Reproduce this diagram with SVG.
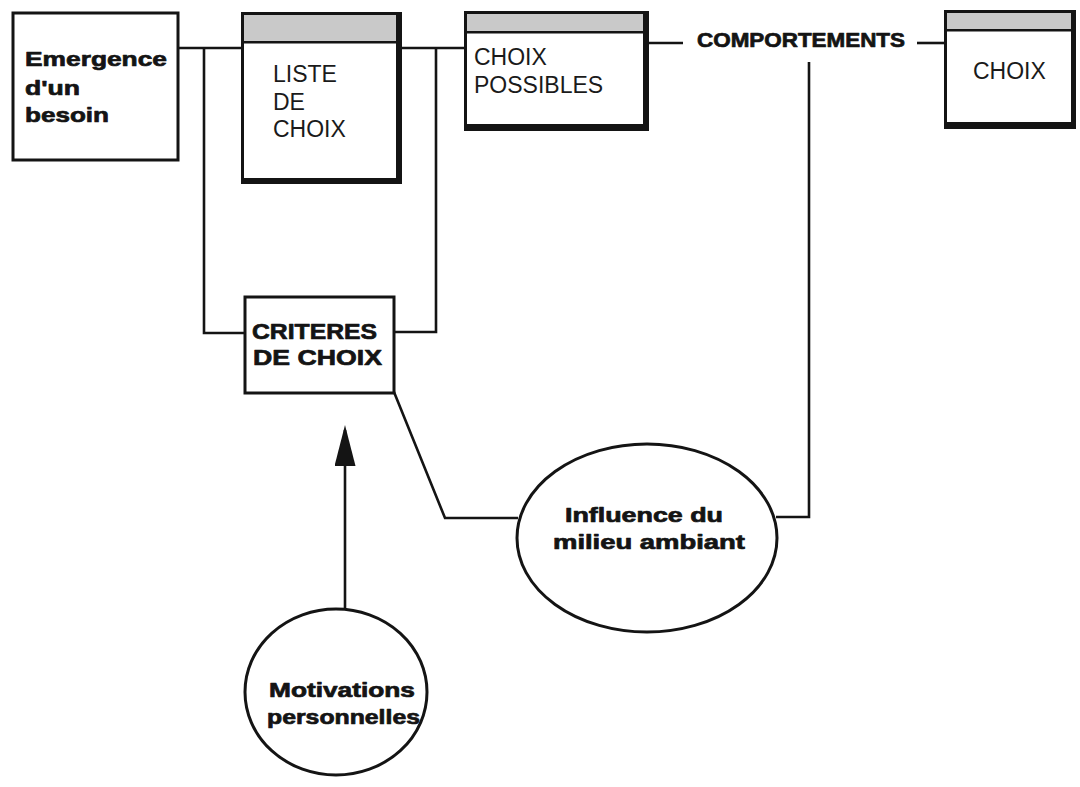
<svg xmlns="http://www.w3.org/2000/svg" width="1080" height="787" viewBox="0 0 1080 787">
  <style>
    .bg { fill: #ffffff; }
    .wire { fill: none; stroke: #141414; stroke-width: 2.6; stroke-linejoin: miter; }
    .frame { fill: #141414; }
    .face { fill: #ffffff; }
    .cap { fill: #c9c9c9; }
    .plain { fill: #ffffff; stroke: #141414; stroke-width: 3; }
    .lbl { font-family: "Liberation Sans", Arial, sans-serif; font-size: 23px; fill: #1a1a1a; }
    .bold { font-family: "Liberation Sans", Arial, sans-serif; font-weight: bold; fill: #141414; stroke: #141414; stroke-width: 0.7; stroke-linejoin: round; }
  </style>
  <defs>
    <marker id="arrowhead" markerUnits="userSpaceOnUse" markerWidth="42" markerHeight="22" viewBox="0 0 42 22" refX="36" refY="10.5" orient="auto">
      <path d="M0,0 L41,10.5 L0,21 Z" fill="#141414"/>
    </marker>
  </defs>

  <rect class="bg" x="0" y="0" width="1080" height="787"/>

  <!-- connectors -->
  <g id="connectors">
    <path class="wire" d="M178,48 H242"/>
    <path class="wire" d="M402,48 H464"/>
    <path class="wire" d="M204,48 V333 H245"/>
    <path class="wire" d="M436,48 V332 H394"/>
    <path class="wire" d="M649,43 H683"/>
    <path class="wire" d="M917,43 H944"/>
    <path class="wire" d="M809,62 V517 H776"/>
    <path class="wire" d="M394,392 L445,518 H518"/>
    <path class="wire" d="M345,609 V430" marker-end="url(#arrowhead)"/>
  </g>

  <!-- Emergence d'un besoin -->
  <g id="besoin">
    <rect class="plain" x="13" y="13" width="165" height="147"/>
    <text class="bold" font-size="21" x="25" y="66" textLength="142" lengthAdjust="spacingAndGlyphs">Emergence</text>
    <text class="bold" font-size="21" x="25" y="95" textLength="55" lengthAdjust="spacingAndGlyphs">d'un</text>
    <text class="bold" font-size="21" x="25" y="122" textLength="84" lengthAdjust="spacingAndGlyphs">besoin</text>
  </g>

  <!-- Liste de choix -->
  <g id="liste">
    <rect class="frame" x="241" y="12" width="161" height="172"/>
    <rect class="face" x="244" y="15" width="152" height="163"/>
    <rect class="cap" x="244" y="15" width="152" height="26"/>
    <rect class="frame" x="244" y="41" width="152" height="2.5"/>
    <text class="lbl" x="273" y="82">LISTE</text>
    <text class="lbl" x="273" y="110">DE</text>
    <text class="lbl" x="273" y="137">CHOIX</text>
  </g>

  <!-- Choix possibles -->
  <g id="possibles">
    <rect class="frame" x="464" y="11" width="185" height="120"/>
    <rect class="face" x="467" y="14" width="176" height="110"/>
    <rect class="cap" x="467" y="14" width="176" height="17"/>
    <rect class="frame" x="467" y="31" width="176" height="2.5"/>
    <text class="lbl" x="474" y="65">CHOIX</text>
    <text class="lbl" x="474" y="93">POSSIBLES</text>
  </g>

  <!-- Comportements -->
  <g id="comportements">
    <text class="bold" font-size="20" x="697" y="47" textLength="208" lengthAdjust="spacingAndGlyphs">COMPORTEMENTS</text>
  </g>

  <!-- Choix -->
  <g id="choix">
    <rect class="frame" x="944" y="10" width="132" height="119"/>
    <rect class="face" x="947" y="13" width="124" height="109"/>
    <rect class="cap" x="947" y="13" width="124" height="16"/>
    <rect class="frame" x="947" y="29" width="124" height="2.5"/>
    <text class="lbl" x="973" y="79">CHOIX</text>
  </g>

  <!-- Criteres de choix -->
  <g id="criteres">
    <rect class="plain" x="245" y="297" width="149" height="96" stroke-width="3.5"/>
    <text class="bold" font-size="22" x="252" y="339" textLength="125" lengthAdjust="spacingAndGlyphs">CRITERES</text>
    <text class="bold" font-size="22" x="253" y="365" textLength="129" lengthAdjust="spacingAndGlyphs">DE CHOIX</text>
  </g>

  <!-- Influence du milieu ambiant -->
  <g id="influence">
    <ellipse class="plain" cx="647" cy="538" rx="130" ry="94"/>
    <text class="bold" font-size="20" x="565" y="522" textLength="158" lengthAdjust="spacingAndGlyphs">Influence du</text>
    <text class="bold" font-size="20" x="553" y="549" textLength="192" lengthAdjust="spacingAndGlyphs">milieu ambiant</text>
  </g>

  <!-- Motivations personnelles -->
  <g id="motivations">
    <ellipse class="plain" cx="336" cy="692" rx="91" ry="83"/>
    <text class="bold" font-size="20" x="269" y="697" textLength="146" lengthAdjust="spacingAndGlyphs">Motivations</text>
    <text class="bold" font-size="20" x="267" y="724" textLength="153" lengthAdjust="spacingAndGlyphs">personnelles</text>
  </g>
</svg>
